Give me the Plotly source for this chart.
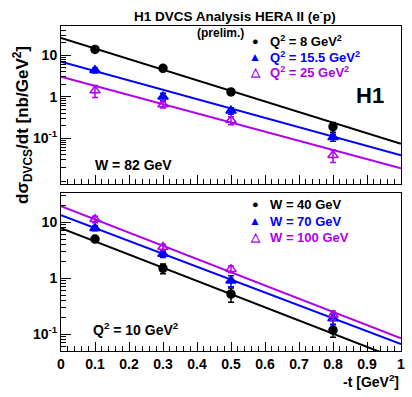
import numpy as np
import plotly.graph_objects as go

# ---------------- data ----------------
t_vals = [0.1, 0.3, 0.5, 0.8]

# top panel: W = 82 GeV, different Q^2
q8_vals = [13.7, 4.8, 1.3, 0.19]
q8_err = [1.6, 0.5, 0.2, 0.05]
q15_vals = [4.3, 1.0, 0.46, 0.105]
q15_err = [0.6, 0.2, 0.08, 0.02]
q25_vals = [1.4, 0.65, 0.27, 0.039]
q25_err = [0.45, 0.12, 0.06, 0.013]

# bottom panel: Q^2 = 10 GeV^2, different W
w40_vals = [5.0, 1.5, 0.52, 0.118]
w40_err = [0.6, 0.3, 0.15, 0.03]
w70_vals = [7.8, 2.7, 0.9, 0.19]
w70_err = [0.8, 0.35, 0.2, 0.04]
w100_vals = [11.3, 3.6, 1.45, 0.22]
w100_err = [1.5, 0.4, 0.2, 0.04]

# exponential fits A*exp(-b|t|)
top_fit_A = [25.9, 6.9, 3.0]
top_fit_b = [5.87, 5.18, 5.07]
bot_fit_A = [7.8, 13.3, 19.3]
bot_fit_b = [5.42, 5.30, 5.43]

top_names = ["Q<sup>2</sup> = 8 GeV<sup>2</sup>", "Q<sup>2</sup> = 15.5 GeV<sup>2</sup>",
             "Q<sup>2</sup> = 25 GeV<sup>2</sup>"]
bot_names = ["W = 40 GeV", "W = 70 GeV", "W = 100 GeV"]

x_ticks = [0, 0.1, 0.2, 0.3, 0.4, 0.5, 0.6, 0.7, 0.8, 0.9, 1]
x_ticktext = ["0", "0.1", "0.2", "0.3", "0.4", "0.5", "0.6", "0.7", "0.8", "0.9", "1"]
y_ticks = [0.1, 1, 10]
y_ticktext = ["10<sup>-1</sup>", "1", "10"]

# ---------------- style ----------------
BLACK = "#000000"
BLUE = "#0000ff"
VIOLET = "#b000f0"
colors = [BLACK, BLUE, VIOLET]
symbols = ["circle", "triangle-up", "triangle-up-open"]
glyphs = ["●", "▲", "△"]
FONT = "Liberation Sans"

fig = go.Figure()

tgrid = np.linspace(0, 1, 101)

top_sets = [(q8_vals, q8_err), (q15_vals, q15_err), (q25_vals, q25_err)]
bot_sets = [(w40_vals, w40_err), (w70_vals, w70_err), (w100_vals, w100_err)]

for i in range(3):
    fig.add_trace(go.Scatter(x=tgrid, y=top_fit_A[i] * np.exp(-top_fit_b[i] * tgrid),
                             mode="lines", line=dict(color=colors[i], width=2),
                             showlegend=False, xaxis="x", yaxis="y", hoverinfo="skip"))
    fig.add_trace(go.Scatter(x=tgrid, y=bot_fit_A[i] * np.exp(-bot_fit_b[i] * tgrid),
                             mode="lines", line=dict(color=colors[i], width=2),
                             showlegend=False, xaxis="x2", yaxis="y2", hoverinfo="skip"))

for sets, names, xa, ya in [(top_sets, top_names, "x", "y"), (bot_sets, bot_names, "x2", "y2")]:
    for i in range(3):
        vals, err = sets[i]
        fig.add_trace(go.Scatter(
            x=t_vals, y=vals, mode="markers",
            marker=dict(symbol=symbols[i], size=8 if i == 0 else 9, color=colors[i],
                        line=dict(color=colors[i], width=1.5)),
            error_y=dict(type="data", array=err, color=colors[i], thickness=1.5, width=3),
            name=names[i], showlegend=False, xaxis=xa, yaxis=ya))

# minor log ticks (2..9 per decade)
minor_vals = [m * 10.0 ** d for d in range(-3, 2) for m in range(2, 10)]

tickfont = dict(family=FONT, size=14, color="black", weight="bold")
xax = dict(range=[0, 1], ticks="inside", tickvals=x_ticks, ticklen=9, tickwidth=1,
           tickcolor="black", showline=True, linecolor="black", linewidth=1, mirror=True,
           showgrid=False, zeroline=False,
           minor=dict(ticks="inside", dtick=0.02, tick0=0, ticklen=5, tickcolor="black",
                      tickwidth=1, showgrid=False))
yax = dict(type="log", ticks="inside", tickvals=y_ticks, ticktext=y_ticktext, ticklen=10,
           tickwidth=1, tickcolor="black", showline=True, linecolor="black", linewidth=1,
           mirror=True, showgrid=False, zeroline=False, tickfont=tickfont,
           minor=dict(ticks="inside", tickvals=minor_vals, ticklen=5, tickcolor="black",
                      tickwidth=1, showgrid=False))

fig.update_layout(
    width=412, height=397,
    margin=dict(l=61, r=11, t=26, b=46, autoexpand=False),
    paper_bgcolor="white", plot_bgcolor="white",
    xaxis=dict(**xax, anchor="y", showticklabels=False, domain=[0, 1]),
    xaxis2=dict(**xax, anchor="y2", showticklabels=True, ticktext=x_ticktext,
                tickfont=tickfont, domain=[0, 1]),
    yaxis=dict(**yax, domain=[0.514, 1], range=[-2.1, 1.7], anchor="x"),
    yaxis2=dict(**yax, domain=[0, 0.486], range=[-1.3, 1.52], anchor="x2"),
    showlegend=False,
)

def ann(text, x, y, size, xanchor="center", yanchor="middle", angle=0, color="black"):
    fig.add_annotation(text=text, x=x, y=y, xref="paper", yref="paper", showarrow=False,
                       xanchor=xanchor, yanchor=yanchor, textangle=angle,
                       font=dict(family=FONT, size=size, color=color, weight="bold"))

def px_x(px):
    return (px - 61) / 340.0

def px_y(py):
    return (351 - py) / 325.0

# legends (as annotations)
for i in range(3):
    ytop = [41, 57, 72][i]
    ybot = [204, 221, 237][i]
    gsize = 11 if i == 0 else 12
    ann(glyphs[i], px_x(255), px_y(ytop), gsize, color=colors[i])
    ann(top_names[i], px_x(268), px_y(ytop), 13, xanchor="left", color=colors[i])
    ann(glyphs[i], px_x(255), px_y(ybot), gsize, color=colors[i])
    ann(bot_names[i], px_x(268), px_y(ybot), 13, xanchor="left", color=colors[i])

ann("H1 DVCS Analysis HERA II (e<sup>-</sup>p)", px_x(235), px_y(15), 13.5)
ann("(prelim.)", px_x(220), px_y(33), 12)
ann("H1", px_x(370), px_y(95), 22)
ann("W = 82 GeV", px_x(133), px_y(165), 14)
ann("Q<sup>2</sup> = 10 GeV<sup>2</sup>", px_x(136), px_y(329), 14)
ann("-t [GeV<sup>2</sup>]", 1.0, px_y(381), 14, xanchor="right")
ann("dσ<sub>DVCS</sub>/dt [nb/GeV<sup>2</sup>]", px_x(22), px_y(125), 17, angle=-90)

fig.write_html("out.html", config={"displayModeBar": False},
               post_script="document.body.style.margin='0px';")
